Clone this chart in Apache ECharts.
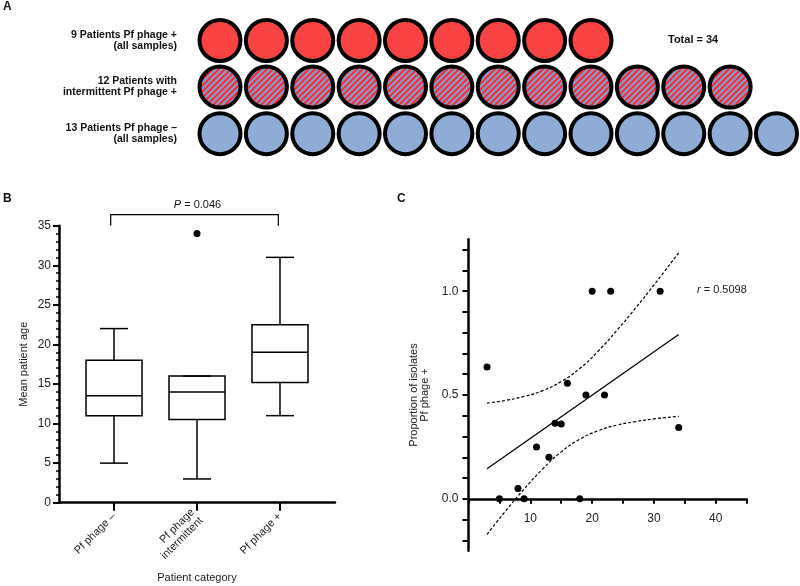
<!DOCTYPE html>
<html><head><meta charset="utf-8">
<script src="https://cdn.jsdelivr.net/npm/echarts@6/dist/echarts.min.js"></script>
<style>html,body{margin:0;padding:0;background:#fff}#c{width:800px;height:586px}</style>
</head><body><div id="c"></div>
<script>
// ---------- Panel A ----------
const groupLabels = ['9 Patients Pf phage +\n(all samples)', '12 Patients with\nintermittent Pf phage +', '13 Patients Pf phage \u2013\n(all samples)'];
const groupCounts = [9, 12, 13];
const totalLabel = 'Total = 34';
// ---------- Panel B ----------
const boxCategories = ['Pf phage \u2013', 'Pf phage\nintermittent', 'Pf phage +'];
const boxMin = [5, 3, 11];
const boxQ1 = [11, 10.5, 15.2];
const boxMedian = [13.5, 14, 19];
const boxQ3 = [18, 16, 22.5];
const boxMax = [22, 16, 31];
const outliers = [[2, 34]];
const pBracket = { from: 0.96, to: 2.98, top: 36.4, foot: 35, label: '0.046' };
// ---------- Panel C ----------
const ages = [3, 5, 8, 9, 11, 13, 14, 15, 16, 18, 19, 20, 22, 23, 31, 34];
const proportions = [0.635, 0, 0.05, 0, 0.25, 0.2, 0.364, 0.36, 0.556, 0, 0.5, 1, 0.5, 1, 1, 0.344];
const fitLine = [[3, 0.145], [34, 0.791]];
const ciX = [3, 6, 9, 12, 15, 18, 21, 24, 27, 30, 34];
const ciUpper = [0.461, 0.474, 0.493, 0.521, 0.565, 0.628, 0.712, 0.811, 0.918, 1.030, 1.185];
const ciLower = [-0.171, -0.059, 0.047, 0.144, 0.226, 0.287, 0.328, 0.355, 0.372, 0.385, 0.397];
const yTicksC = [-0.2, -0.1, 0, 0.1, 0.2, 0.3, 0.4, 0.5, 0.6, 0.7, 0.8, 0.9, 1.0, 1.1, 1.2];
const yLabelsC = [0, 0.5, 1.0];
const rValue = '0.5098';

const FONT = 'Liberation Sans, Arial, Helvetica, sans-serif';
const RED = '#f94343', BLUE = '#8eacd6';

function hatch() {
  const s = 6, c = document.createElement('canvas');
  c.width = s; c.height = s;
  const g = c.getContext('2d');
  g.fillStyle = '#7b9fd6'; g.fillRect(0, 0, s, s);
  g.strokeStyle = '#ff2a2a'; g.lineWidth = 2; g.beginPath();
  for (let k = 0; k <= 2; k++) { g.moveTo(-1, k * s + 1); g.lineTo(k * s + 1, -1); }
  g.stroke();
  return c;
}
const fills = [RED, { image: hatch(), repeat: 'repeat' }, BLUE];

const axisLineStyle = { color: '#000', width: 2.5 };
const tickStyle = { color: '#000', width: 2 };
const labelStyle = { color: '#222', fontSize: 12, fontFamily: FONT };
const nameStyle = { color: '#222', fontSize: 11, fontFamily: FONT };

const chart = echarts.init(document.getElementById('c'), null, { renderer: 'canvas' });

const circleData = [];
groupCounts.forEach((n, r) => { for (let i = 0; i < n; i++) circleData.push([i, r]); });

const boxData = boxCategories.map((c, i) => [i + 1, boxMin[i], boxQ1[i], boxMedian[i], boxQ3[i], boxMax[i]]);

chart.setOption({
  animation: false,
  textStyle: { fontFamily: FONT },
  grid: [
    { left: 220, width: 556.5, top: 40.5, height: 93.2, outerBoundsMode: 'none', containLabel: false },
    { left: 59, width: 276, top: 225.7, height: 277, outerBoundsMode: 'none', containLabel: false },
    { left: 468.5, width: 278.2, top: 239.3, height: 311.4, outerBoundsMode: 'none', containLabel: false }
  ],
  xAxis: [
    { gridIndex: 0, type: 'value', min: 0, max: 12, show: false },
    { gridIndex: 1, type: 'value', min: 0.337, max: 3.663, splitLine: { show: false },
      axisLine: { show: true, onZero: false, lineStyle: axisLineStyle },
      axisTick: { show: true, customValues: [1, 2, 3], length: 8, lineStyle: tickStyle },
      axisLabel: { customValues: [1, 2, 3], formatter: v => boxCategories[Math.round(v) - 1], rotate: 45, margin: 12, fontSize: 11, lineHeight: 12, color: '#222', fontFamily: FONT },
      name: 'Patient category', nameLocation: 'middle', nameGap: 70, nameTextStyle: nameStyle },
    { gridIndex: 2, type: 'value', min: 0, max: 45, interval: 5, splitLine: { show: false },
      axisLine: { show: true, onZero: true, lineStyle: axisLineStyle },
      axisTick: { show: true, length: 5, lineStyle: tickStyle },
      axisLabel: Object.assign({ margin: -38, formatter: v => (v > 0 && v % 10 === 0) ? String(v) : '' }, labelStyle),
      name: 'Attained age', nameLocation: 'middle', nameGap: 74, nameTextStyle: nameStyle }
  ],
  yAxis: [
    { gridIndex: 0, type: 'category', inverse: true, boundaryGap: false, data: groupLabels,
      axisLine: { show: false }, axisTick: { show: false }, splitLine: { show: false },
      axisLabel: { margin: 43, fontWeight: 'bold', fontSize: 10.5, lineHeight: 11, color: '#111', align: 'right', fontFamily: FONT } },
    { gridIndex: 1, type: 'value', min: 0, max: 35, interval: 5, splitLine: { show: false },
      axisLine: { show: true, onZero: false, lineStyle: axisLineStyle },
      axisTick: { show: true, length: 6, lineStyle: tickStyle },
      minorTick: { show: true, splitNumber: 5, length: 3, lineStyle: { color: '#000', width: 1.5 } },
      axisLabel: Object.assign({ margin: 8 }, labelStyle),
      name: 'Mean patient age', nameLocation: 'middle', nameGap: 30, nameTextStyle: nameStyle },
    { gridIndex: 2, type: 'value', min: -0.25, max: 1.25, splitLine: { show: false },
      axisLine: { show: true, onZero: false, lineStyle: axisLineStyle },
      axisTick: { show: true, customValues: yTicksC, length: 6, lineStyle: tickStyle },
      axisLabel: Object.assign({ customValues: yLabelsC, margin: 10, formatter: v => v.toFixed(1) }, labelStyle),
      name: 'Proportion of isolates\nPf phage +', nameLocation: 'middle', nameGap: 38, nameTextStyle: Object.assign({ lineHeight: 11 }, nameStyle) }
  ],
  series: [
    { type: 'custom', xAxisIndex: 0, yAxisIndex: 0, silent: true, encode: { x: 0, y: 1 },
      data: circleData,
      renderItem: function (params, api) {
        const p = api.coord([api.value(0), api.value(1)]);
        return { type: 'circle', shape: { cx: p[0], cy: p[1], r: 20.5 },
          style: { fill: fills[api.value(1)], stroke: '#000', lineWidth: 4 } };
      } },
    { type: 'custom', xAxisIndex: 1, yAxisIndex: 1, silent: true,
      encode: { x: 0, y: [1, 2, 3, 4, 5] },
      data: boxData,
      renderItem: function (params, api) {
        const x = api.value(0);
        const pMin = api.coord([x, api.value(1)]);
        const pQ1 = api.coord([x, api.value(2)]);
        const pMed = api.coord([x, api.value(3)]);
        const pQ3 = api.coord([x, api.value(4)]);
        const pMax = api.coord([x, api.value(5)]);
        const hw = api.size([0.675, 0])[0] / 2, cw = hw / 2;
        const cx = pMed[0];
        const st = { stroke: '#000', lineWidth: 1.5, fill: null };
        return { type: 'group', children: [
          { type: 'rect', shape: { x: cx - hw, y: pQ3[1], width: 2 * hw, height: pQ1[1] - pQ3[1] }, style: { stroke: '#000', lineWidth: 1.5, fill: '#fff' } },
          { type: 'line', shape: { x1: cx - hw, y1: pMed[1], x2: cx + hw, y2: pMed[1] }, style: st },
          { type: 'line', shape: { x1: cx, y1: pQ1[1], x2: cx, y2: pMin[1] }, style: st },
          { type: 'line', shape: { x1: cx, y1: pQ3[1], x2: cx, y2: pMax[1] }, style: st },
          { type: 'line', shape: { x1: cx - cw, y1: pMin[1], x2: cx + cw, y2: pMin[1] }, style: st },
          { type: 'line', shape: { x1: cx - cw, y1: pMax[1], x2: cx + cw, y2: pMax[1] }, style: st }
        ] };
      } },
    { type: 'scatter', xAxisIndex: 1, yAxisIndex: 1, silent: true, symbolSize: 7,
      itemStyle: { color: '#000', opacity: 1 }, data: outliers },
    { type: 'custom', xAxisIndex: 1, yAxisIndex: 1, silent: true, clip: false,
      encode: { x: [0, 1], y: [2, 3] },
      data: [[pBracket.from, pBracket.to, pBracket.top, pBracket.foot]],
      renderItem: function (params, api) {
        const a = api.coord([api.value(0), api.value(2)]);
        const b = api.coord([api.value(1), api.value(2)]);
        const a0 = api.coord([api.value(0), api.value(3)]);
        const b0 = api.coord([api.value(1), api.value(3)]);
        return { type: 'group', children: [
          { type: 'polyline', shape: { points: [a0, a, b, b0] }, style: { stroke: '#000', lineWidth: 1.2, fill: null } },
          { type: 'text', style: { x: (a[0] + b[0]) / 2 + 3, y: a[1] - 4, text: '{i|P} = ' + pBracket.label, align: 'center', verticalAlign: 'bottom',
            fontSize: 11, fontFamily: FONT, fill: '#111', rich: { i: { fontStyle: 'italic', fontSize: 11, fontFamily: FONT, fill: '#111' } } } }
        ] };
      } },
    { type: 'line', xAxisIndex: 2, yAxisIndex: 2, silent: true, showSymbol: false, symbol: 'none',
      lineStyle: { color: '#000', width: 1.3 }, data: fitLine },
    { type: 'line', xAxisIndex: 2, yAxisIndex: 2, silent: true, showSymbol: false, symbol: 'none', smooth: true,
      lineStyle: { color: '#000', width: 1.2, type: [3, 2] }, data: ciX.map((x, i) => [x, ciUpper[i]]) },
    { type: 'line', xAxisIndex: 2, yAxisIndex: 2, silent: true, showSymbol: false, symbol: 'none', smooth: true,
      lineStyle: { color: '#000', width: 1.2, type: [3, 2] }, data: ciX.map((x, i) => [x, ciLower[i]]) },
    { type: 'scatter', xAxisIndex: 2, yAxisIndex: 2, silent: true, symbolSize: 7, z: 5,
      itemStyle: { color: '#000', opacity: 1 }, data: ages.map((a, i) => [a, proportions[i]]) }
  ],
  graphic: [
    { type: 'text', left: 3, top: 1, style: { text: 'A', font: 'bold 12px ' + FONT, fill: '#111' } },
    { type: 'text', left: 3, top: 193, style: { text: 'B', font: 'bold 12px ' + FONT, fill: '#111' } },
    { type: 'text', left: 397, top: 193, style: { text: 'C', font: 'bold 12px ' + FONT, fill: '#111' } },
    { type: 'text', left: 668, top: 34, style: { text: totalLabel, font: 'bold 11px ' + FONT, fill: '#111' } },
    { type: 'text', left: 697, top: 284, style: { text: '{i|r} = ' + rValue, fontSize: 11, fontFamily: FONT, fill: '#222', rich: { i: { fontStyle: 'italic', fontSize: 11, fontFamily: FONT, fill: '#222' } } } }
  ]
});
</script></body></html>
